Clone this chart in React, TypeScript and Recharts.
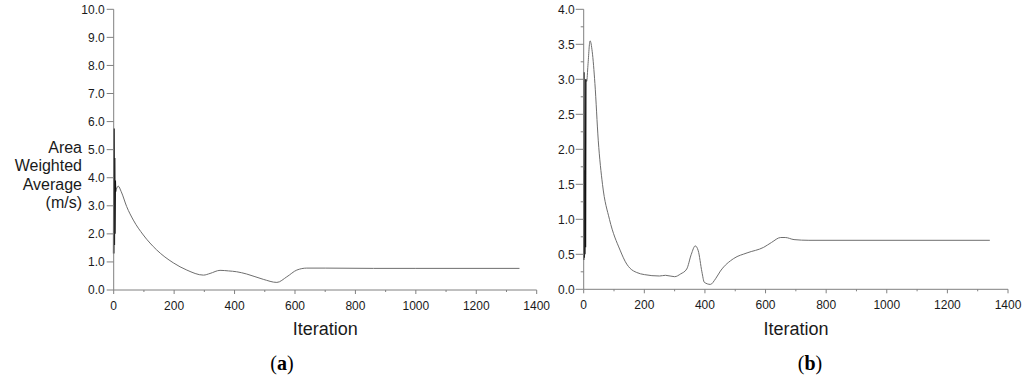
import React from 'react';
import { LineChart, Line, XAxis, YAxis } from 'recharts';

// ---- data ----
const xTicks = [0, 100, 200, 300, 400, 500, 600, 700, 800, 900, 1000, 1100, 1200, 1300, 1400];
const leftYTicks = [0, 1, 2, 3, 4, 5, 6, 7, 8, 9, 10];
const rightYTicks = [0, 0.25, 0.5, 0.75, 1, 1.25, 1.5, 1.75, 2, 2.25, 2.5, 2.75, 3, 3.25, 3.5, 3.75, 4];
const yLabelLines = ['Area', 'Weighted', 'Average', '(m/s)'];

// (a) start-up oscillation and main history
const leftStartIter = [0, 1, 2, 3, 4, 5, 6];
const leftStartVal = [1.3, 5.75, 1.6, 4.7, 2.0, 3.9, 3.5];
const leftIter = [6, 15, 25, 43, 65, 98, 142, 197, 242, 297, 319, 352, 380, 407, 440, 495, 540, 573, 606, 639, 700, 860, 1000, 1343];
const leftVal = [3.5, 3.7, 3.5, 2.97, 2.49, 1.96, 1.43, 0.97, 0.71, 0.53, 0.59, 0.7, 0.68, 0.65, 0.57, 0.38, 0.27, 0.47, 0.71, 0.78, 0.78, 0.77, 0.77, 0.77];

// (b)
const rightStartIter = [0, 1, 2, 3, 4, 5, 6, 7];
const rightStartVal = [0.42, 3.1, 0.45, 1.6, 0.5, 1.7, 0.6, 3.0];
const rightIter = [7, 10, 14, 21, 28, 37, 48, 62, 85, 120, 142, 153, 175, 200, 250, 270, 300, 320, 340, 355, 368, 378, 390, 398, 418, 435, 451, 495, 539, 594, 620, 650, 665, 694, 743, 1340];
const rightVal = [3.0, 2.97, 3.2, 3.55, 3.4, 2.94, 2.13, 1.5, 1.0, 0.56, 0.36, 0.3, 0.24, 0.21, 0.19, 0.2, 0.18, 0.22, 0.29, 0.5, 0.62, 0.55, 0.25, 0.1, 0.07, 0.15, 0.26, 0.44, 0.52, 0.6, 0.67, 0.74, 0.74, 0.71, 0.7, 0.7];

const leftStart = leftStartIter.map((x, i) => ({ x, y: leftStartVal[i] }));
const leftMain = leftIter.map((x, i) => ({ x, y: leftVal[i] }));
const rightStart = rightStartIter.map((x, i) => ({ x, y: rightStartVal[i] }));
const rightMain = rightIter.map((x, i) => ({ x, y: rightVal[i] }));

const FONT = '"Liberation Sans", Arial, sans-serif';
const AXIS = '#808080';
const CURVE = '#6e6e6e';
const TXT = '#1a1a1a';

function XTick(props: any) {
  const { x, y, payload } = props;
  const v = payload.value;
  const major = v % 200 === 0;
  return (
    <g>
      <line x1={x} x2={x} y1={y} y2={y + (major ? 4 : 2)} stroke={AXIS} />
      {major && (
        <text x={x} y={y + 20} textAnchor="middle" fontSize={12} fontFamily={FONT} fill={TXT}>
          {v}
        </text>
      )}
    </g>
  );
}

function LeftYTick(props: any) {
  const { x, y, payload } = props;
  return (
    <g>
      <line x1={x - 7} x2={x} y1={y} y2={y} stroke={AXIS} />
      <text x={x - 9} y={y} dy="0.36em" textAnchor="end" fontSize={12} fontFamily={FONT} fill={TXT}>
        {Number(payload.value).toFixed(1)}
      </text>
    </g>
  );
}

function RightYTick(props: any) {
  const { x, y, payload } = props;
  const v = Number(payload.value);
  const major = Math.abs(v * 2 - Math.round(v * 2)) < 1e-6;
  return (
    <g>
      <line x1={x - (major ? 8 : 3)} x2={x} y1={y} y2={y} stroke={AXIS} />
      {major && (
        <text x={x - 9} y={y} dy="0.36em" textAnchor="end" fontSize={12} fontFamily={FONT} fill={TXT}>
          {v.toFixed(1)}
        </text>
      )}
    </g>
  );
}

export default function App() {
  return (
    <div style={{ position: 'absolute', left: 0, top: 0, width: 1024, height: 381, background: '#fff' }}>
      <div style={{ position: 'absolute', left: 0, top: 0 }}>
        <LineChart width={560} height={381} margin={{ top: 9.3, right: 23.3, bottom: 61, left: 53.7 }}>
          <XAxis
            dataKey="x"
            type="number"
            domain={[0, 1400]}
            ticks={xTicks}
            interval={0}
            height={30}
            tickSize={0}
            tickMargin={0}
            tickLine={false}
            stroke={AXIS}
            tick={<XTick />}
          />
          <YAxis
            dataKey="y"
            type="number"
            domain={[0, 10]}
            ticks={leftYTicks}
            interval={0}
            width={60}
            tickSize={0}
            tickMargin={0}
            tickLine={false}
            stroke={AXIS}
            tick={<LeftYTick />}
          />
          <Line data={leftMain} dataKey="y" type="monotone" stroke={CURVE} strokeWidth={1} dot={false} isAnimationActive={false} />
          <Line data={leftStart} dataKey="y" type="linear" stroke="#111" strokeWidth={1.6} dot={false} isAnimationActive={false} />
        </LineChart>
      </div>
      <div style={{ position: 'absolute', left: 500, top: 0 }}>
        <LineChart width={524} height={381} margin={{ top: 9.3, right: 16, bottom: 61.7, left: 23.7 }}>
          <XAxis
            dataKey="x"
            type="number"
            domain={[0, 1400]}
            ticks={xTicks}
            interval={0}
            height={30}
            tickSize={0}
            tickMargin={0}
            tickLine={false}
            stroke={AXIS}
            tick={<XTick />}
          />
          <YAxis
            dataKey="y"
            type="number"
            domain={[0, 4]}
            ticks={rightYTicks}
            interval={0}
            width={60}
            tickSize={0}
            tickMargin={0}
            tickLine={false}
            stroke={AXIS}
            tick={<RightYTick />}
          />
          <Line data={rightMain} dataKey="y" type="monotone" stroke={CURVE} strokeWidth={1} dot={false} isAnimationActive={false} />
          <Line data={rightStart} dataKey="y" type="linear" stroke="#111" strokeWidth={1.4} dot={false} isAnimationActive={false} />
        </LineChart>
      </div>
      <svg width={1024} height={381} style={{ position: 'absolute', left: 0, top: 0, pointerEvents: 'none' }}>
        {yLabelLines.map((s, i) => (
          <text key={s} x={82} y={152.7 + i * 18.5} fontFamily={FONT} fontSize={16} fill={TXT} textAnchor="end">
            {s}
          </text>
        ))}
        <text x={325.2} y={334.5} textAnchor="middle" fontFamily={FONT} fontSize={18} fill={TXT}>Iteration</text>
        <text x={795.9} y={334.5} textAnchor="middle" fontFamily={FONT} fontSize={18} fill={TXT}>Iteration</text>
        <text x={282} y={370} textAnchor="middle" fontFamily='"Liberation Serif", "Times New Roman", serif' fontSize={20} fill="#000">
          (<tspan fontWeight="bold">a</tspan>)
        </text>
        <text x={810} y={370} textAnchor="middle" fontFamily='"Liberation Serif", "Times New Roman", serif' fontSize={20} fill="#000">
          (<tspan fontWeight="bold">b</tspan>)
        </text>
      </svg>
    </div>
  );
}
